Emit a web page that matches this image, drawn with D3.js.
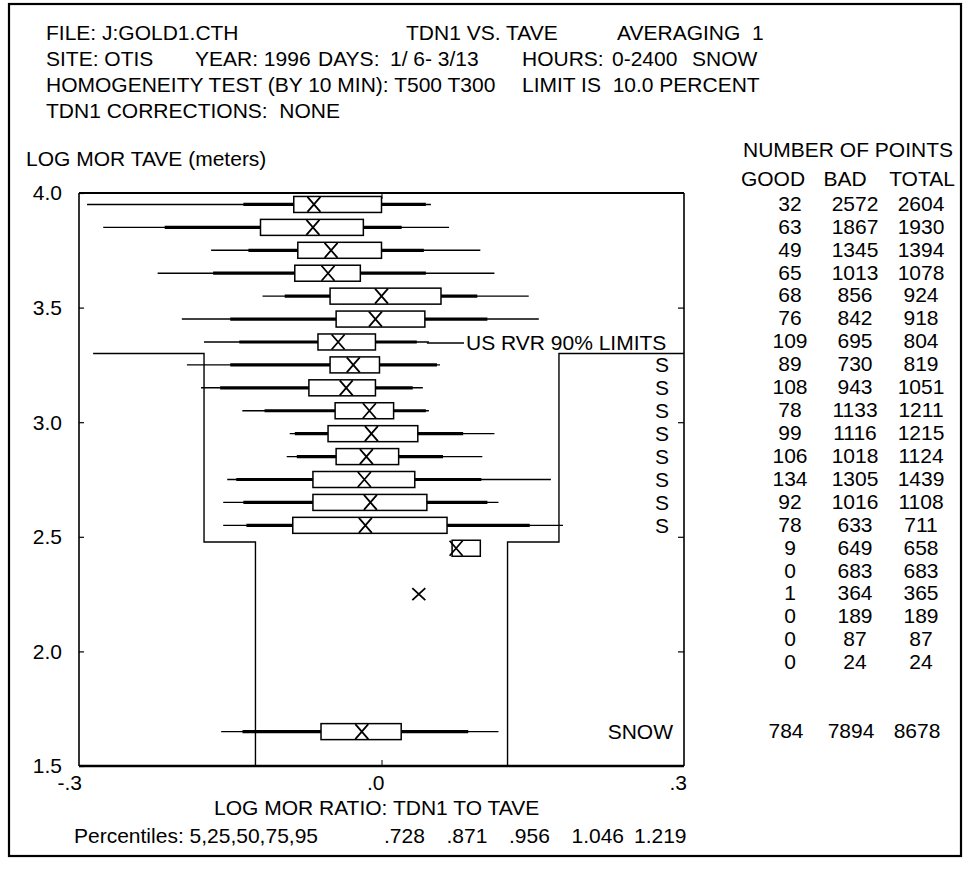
<!DOCTYPE html>
<html>
<head>
<meta charset="utf-8">
<script src="https://cdn.jsdelivr.net/npm/d3@7"></script>
<style>
  body { margin: 0; background: #fff; }
  text { font-family: "Liberation Sans", Arial, sans-serif; font-size: 21px; fill: #000; }
</style>
</head>
<body>
<svg id="chart" width="963" height="869"></svg>
<script>
// ---------------- DATA ----------------
// Row centres (log MOR TAVE, meters)
const rowLevels = [3.95, 3.85, 3.75, 3.65, 3.55, 3.45, 3.35, 3.25, 3.15, 3.05, 2.95,
                   2.85, 2.75, 2.65, 2.55, 2.45, 2.35, 2.25, 2.15, 2.05, 1.95];
// Log MOR ratio statistics per row (null = no box drawn)
const ratioLow  = [-0.292,-0.276,-0.169,-0.222,-0.118,-0.198,-0.176,-0.193,-0.179,-0.138,-0.091,
                   -0.094,-0.153,-0.157,-0.157, 0.070, null, null, null, null, null];
const ratioP5   = [-0.137,-0.215,-0.132,-0.167,-0.096,-0.150,-0.141,-0.150,-0.160,-0.116,-0.086,
                   -0.084,-0.144,-0.137,-0.134, 0.070, null, null, null, null, null];
const ratioP25  = [-0.087,-0.120,-0.083,-0.086,-0.051,-0.045,-0.063,-0.051,-0.072,-0.046,-0.053,
                   -0.045,-0.068,-0.068,-0.088, 0.070, null, null, null, null, null];
const ratioP50  = [-0.067,-0.068,-0.050,-0.053, 0.000,-0.006,-0.043,-0.028,-0.035,-0.012,-0.010,
                   -0.015,-0.017,-0.011,-0.016, 0.074, null, 0.037, null, null, null];
const ratioP75  = [ 0.000,-0.018, 0.000,-0.021, 0.059, 0.043,-0.006,-0.002,-0.006, 0.012, 0.036,
                    0.017, 0.033, 0.045, 0.065, 0.098, null, null, null, null, null];
const ratioP95  = [ 0.044, 0.020, 0.042, 0.044, 0.095, 0.105, 0.035, 0.055, 0.031, 0.044, 0.081,
                    0.061, 0.099, 0.105, 0.147, 0.098, null, null, null, null, null];
const ratioHigh = [ 0.049, 0.067, 0.098, 0.112, 0.146, 0.156, 0.047, 0.058, 0.041, 0.047, 0.112,
                    0.100, 0.168, 0.116, 0.180, 0.098, null, null, null, null, null];
const snowFlags = ["","","","","","","","S","S","S","S","S","S","S","S","","","","","",""];
// Number of points
const goodCounts  = [32,63,49,65,68,76,109,89,108,78,99,106,134,92,78,9,0,1,0,0,0];
const badCounts   = [2572,1867,1345,1013,856,842,695,730,943,1133,1116,1018,1305,1016,633,649,683,364,189,87,24];
const totalCounts = [2604,1930,1394,1078,924,918,804,819,1051,1211,1215,1124,1439,1108,711,658,683,365,189,87,24];
// Summary (SNOW) row
const summaryLevel = 1.65;
const summaryPercentiles = [0.728, 0.871, 0.956, 1.046, 1.219];   // 5,25,50,75,95
const summaryPercentileLabels = [".728", ".871", ".956", "1.046", "1.219"];
const summaryExtremes = [-0.159, 0.116];
const summaryCounts = [784, 7894, 8678];
// US RVR 90% limit lines [ratio, level]
const limitLeft  = [[-0.286, 3.30], [-0.176, 3.30], [-0.176, 2.477], [-0.125, 2.477], [-0.125, 1.5]];
const limitRight = [[ 0.300, 3.30], [ 0.176, 3.30], [ 0.176, 2.477], [ 0.125, 2.477], [ 0.125, 1.5]];
// Axes
const yTicks = [4.0, 3.5, 3.0, 2.5, 2.0, 1.5];
const yTickLabels = ["4.0", "3.5", "3.0", "2.5", "2.0", "1.5"];
const xTicks = [-0.3, 0.0, 0.3];
const xTickLabels = ["-.3", ".0", ".3"];
const tableHeaders = ["GOOD", "BAD", "TOTAL"];

// ---------------- DRAW ----------------
const svg = d3.select("#chart");
const x = d3.scaleLinear().domain([-0.3, 0.3]).range([79, 684]);
const y = d3.scaleLinear().domain([1.5, 4.0]).range([766, 193]);
const boxH = 16, xW = 6.5;

// outer frame
svg.append("rect").attr("x", 9).attr("y", 4).attr("width", 952).attr("height", 852)
  .attr("fill", "none").attr("stroke", "#000").attr("stroke-width", 2.2);

// header text
const hdr = [
  ["FILE: J:GOLD1.CTH", 46, 40], ["TDN1 VS. TAVE", 406, 40], ["AVERAGING  1", 617, 40],
  ["SITE: OTIS", 46, 66], ["YEAR: 1996", 195, 66], ["DAYS:", 318, 66], ["1/ 6- 3/13", 390, 66],
  ["HOURS:", 522, 66], ["0-2400", 612, 66], ["SNOW", 692, 66],
  ["HOMOGENEITY TEST (BY 10 MIN): T500 T300", 46, 92], ["LIMIT IS  10.0 PERCENT", 522, 92],
  ["TDN1 CORRECTIONS:  NONE", 46, 118],
  ["LOG MOR TAVE (meters)", 26, 166],
  ["NUMBER OF POINTS", 743, 157]
];
svg.append("g").selectAll("text").data(hdr).join("text")
  .attr("x", d => d[1]).attr("y", d => d[2])
  .style("white-space", "pre").text(d => d[0]);

// table headers
const colX = [790, 855, 921];
const hdrX = [773, 845, 922];
svg.append("g").selectAll("text").data(tableHeaders).join("text")
  .attr("x", (d, i) => hdrX[i]).attr("y", 186).attr("text-anchor", "middle").text(d => d);

// plot frame
const g = svg.append("g");
g.append("line").attr("x1", x(-0.3)).attr("x2", x(0.3)).attr("y1", y(4)).attr("y2", y(4))
  .attr("stroke", "#000").attr("stroke-width", 2.2);
g.append("line").attr("x1", x(-0.3)).attr("x2", x(0.3)).attr("y1", y(1.5)).attr("y2", y(1.5))
  .attr("stroke", "#000").attr("stroke-width", 2.4);
g.append("line").attr("x1", x(-0.3)).attr("x2", x(-0.3)).attr("y1", y(4)).attr("y2", y(1.5))
  .attr("stroke", "#000").attr("stroke-width", 1.6);
g.append("line").attr("x1", x(0.3)).attr("x2", x(0.3)).attr("y1", y(4)).attr("y2", y(1.5))
  .attr("stroke", "#000").attr("stroke-width", 1.6);

// y axis (left) via d3 axis, inward ticks
const yAxisL = d3.axisRight(y).tickValues(yTicks).tickSize(5).tickFormat("");
const gL = g.append("g").attr("transform", `translate(${x(-0.3)},0)`).call(yAxisL);
gL.select(".domain").remove();
gL.selectAll("line").attr("stroke-width", 1.2);
g.append("g").selectAll("text").data(yTicks).join("text")
  .attr("x", 62).attr("y", d => y(d)).attr("dy", "0.35em").attr("text-anchor", "end")
  .text((d, i) => yTickLabels[i]);
// right axis inward ticks
const yAxisR = d3.axisLeft(y).tickValues(yTicks.slice(1, 5)).tickSize(6).tickFormat("");
const gR = g.append("g").attr("transform", `translate(${x(0.3)},0)`).call(yAxisR);
gR.select(".domain").remove();
gR.selectAll("line").attr("stroke-width", 1.2);
// x axis ticks (top/bottom, inward at 0)
const xAxisB = d3.axisTop(x).tickValues([0]).tickSize(6).tickFormat("");
const gB = g.append("g").attr("transform", `translate(0,${y(1.5)})`).call(xAxisB);
gB.select(".domain").remove();
const xAxisT = d3.axisBottom(x).tickValues([0]).tickSize(6).tickFormat("");
const gT = g.append("g").attr("transform", `translate(0,${y(4)})`).call(xAxisT);
gT.select(".domain").remove();
g.append("g").selectAll("text").data(xTicks).join("text")
  .attr("x", d => x(d) + 3).attr("y", 790).attr("text-anchor", "end")
  .text((d, i) => xTickLabels[i]);

// axis title + percentiles
svg.append("text").attr("x", 214).attr("y", 815).text("LOG MOR RATIO: TDN1 TO TAVE");
svg.append("text").attr("x", 74).attr("y", 843).text("Percentiles: 5,25,50,75,95");
const pctX = d3.scalePoint().domain(summaryPercentileLabels).range([384, 634]);
svg.append("g").selectAll("text").data(summaryPercentileLabels).join("text")
  .attr("x", d => pctX(d)).attr("y", 843).text(d => d);

// limit lines
const lineGen = d3.line().x(d => x(d[0])).y(d => y(d[1]));
[limitLeft, limitRight].forEach(pts => {
  g.append("path").attr("d", lineGen(pts)).attr("fill", "none")
    .attr("stroke", "#000").attr("stroke-width", 1.4);
});
// limit label with leader
g.append("line").attr("x1", x(0.045)).attr("x2", 464)
  .attr("y1", y(3.35) + 1).attr("y2", y(3.35) + 1).attr("stroke", "#000").attr("stroke-width", 1.4);
g.append("text").attr("x", 466).attr("y", y(3.35) + 8).text("US RVR 90% LIMITS");

// box plot drawing helper
function drawBox(cy, lo, p5, p25, p50, p75, p95, hi) {
  const bg = g.append("g");
  if (lo !== null) {
    bg.append("line").attr("x1", x(lo)).attr("x2", x(hi)).attr("y1", cy).attr("y2", cy)
      .attr("stroke", "#000").attr("stroke-width", 1.4);
    bg.append("line").attr("x1", x(p5)).attr("x2", x(p25)).attr("y1", cy).attr("y2", cy)
      .attr("stroke", "#000").attr("stroke-width", 3.2);
    bg.append("line").attr("x1", x(p75)).attr("x2", x(p95)).attr("y1", cy).attr("y2", cy)
      .attr("stroke", "#000").attr("stroke-width", 3.2);
    bg.append("rect").attr("x", x(p25)).attr("y", cy - boxH / 2)
      .attr("width", x(p75) - x(p25)).attr("height", boxH)
      .attr("fill", "#fff").attr("stroke", "#000").attr("stroke-width", 1.5);
  }
  if (p50 !== null) {
    const cx = x(p50), hh = lo !== null ? boxH / 2 - 0.5 : 6;
    bg.append("path")
      .attr("d", `M${cx - xW},${cy - hh}L${cx + xW},${cy + hh}M${cx + xW},${cy - hh}L${cx - xW},${cy + hh}`)
      .attr("stroke", "#000").attr("stroke-width", 1.8).attr("fill", "none");
  }
}
rowLevels.forEach((lv, i) => {
  drawBox(y(lv), ratioLow[i], ratioP5[i], ratioP25[i], ratioP50[i], ratioP75[i], ratioP95[i], ratioHigh[i]);
});
const sp = summaryPercentiles.map(v => Math.log10(v));
drawBox(y(summaryLevel), summaryExtremes[0], sp[0], sp[1], sp[2], sp[3], sp[4], summaryExtremes[1]);

// S flags
g.append("g").selectAll("text").data(rowLevels).join("text")
  .attr("x", 662).attr("y", d => y(d)).attr("dy", "0.35em").attr("text-anchor", "middle")
  .text((d, i) => snowFlags[i]);
g.append("text").attr("x", 673).attr("y", y(summaryLevel)).attr("dy", "0.35em")
  .attr("text-anchor", "end").text("SNOW");

// counts table
const tbl = svg.append("g");
[goodCounts, badCounts, totalCounts].forEach((arr, c) => {
  tbl.append("g").selectAll("text").data(arr).join("text")
    .attr("x", colX[c]).attr("y", (d, i) => y(rowLevels[i]) - 1).attr("dy", "0.35em")
    .attr("text-anchor", "middle").text(d => d);
});
tbl.append("g").selectAll("text").data(summaryCounts).join("text")
  .attr("x", (d, i) => colX[i] - 4).attr("y", y(summaryLevel) - 1).attr("dy", "0.35em")
  .attr("text-anchor", "middle").text(d => d);
</script>
</body>
</html>
